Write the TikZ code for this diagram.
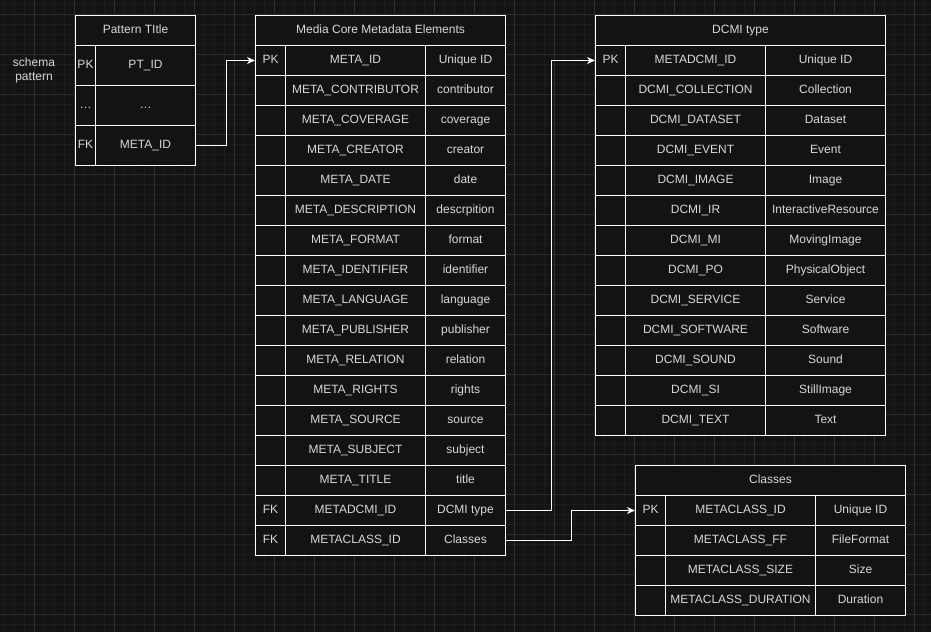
\documentclass[tikz,border=0pt]{standalone}
\usepackage{fontspec}
\setmainfont{Liberation Sans}
\usetikzlibrary{arrows.meta}
\definecolor{bg}{HTML}{131313}
\definecolor{minorgrid}{HTML}{1C1C1C}
\definecolor{majorgrid}{HTML}{2E2E2E}
\definecolor{txt}{HTML}{D8D8D8}
\begin{document}
\begin{tikzpicture}[x=1pt,y=-1pt,
  cell/.style={draw=white, line width=1pt, fill=bg, text=txt,
    font=\fontsize{12}{14}\selectfont, inner sep=0pt, anchor=north west,
    text height=8.8pt, text depth=2.6pt, minimum height=30pt},
  conn/.style={draw=white, line width=1pt, -{Stealth[length=8pt,width=7pt,inset=2.5pt]}},
  lbl/.style={text=txt, font=\fontsize{12}{14}\selectfont, align=center, inner sep=0pt}]
\useasboundingbox (0,0) rectangle (931,632);
\fill[bg] (0,0) rectangle (931,632);
% grid
\foreach \x in {4,14,...,931} \draw[minorgrid, line width=1pt] (\x,0) -- (\x,632);
\foreach \y in {4,14,...,632} \draw[minorgrid, line width=1pt] (0,\y) -- (931,\y);
\foreach \x in {34,74,...,931} \draw[majorgrid, line width=1pt] (\x,0) -- (\x,632);
\foreach \y in {14,54,...,632} \draw[majorgrid, line width=1pt] (0,\y) -- (931,\y);

% schema pattern label
\node[lbl] (sp) at (34,70) {schema\\pattern};

% Pattern Title table
\node[cell, minimum width=120pt] (pt) at (75,15) {Pattern TItle};
\foreach [count=\i] \k/\n in {PK/PT\_ID, \dots/\dots, FK/META\_ID} {
  \pgfmathsetmacro\yy{45+40*(\i-1)}
  \node[cell, minimum width=20pt, minimum height=40pt] (pk\i) at (75,\yy) {\k};
  \node[cell, minimum width=100pt, minimum height=40pt] (pn\i) at (95,\yy) {\n};
}

% Media Core Metadata Elements
\node[cell, minimum width=250pt] (mc) at (255,15) {Media Core Metadata Elements};
\foreach [count=\i] \k/\n/\d in {PK/META\_ID/Unique ID,
  /META\_CONTRIBUTOR/contributor,
  /META\_COVERAGE/coverage,
  /META\_CREATOR/creator,
  /META\_DATE/date,
  /META\_DESCRIPTION/descrpition,
  /META\_FORMAT/format,
  /META\_IDENTIFIER/identifier,
  /META\_LANGUAGE/language,
  /META\_PUBLISHER/publisher,
  /META\_RELATION/relation,
  /META\_RIGHTS/rights,
  /META\_SOURCE/source,
  /META\_SUBJECT/subject,
  /META\_TITLE/title,
  FK/METADCMI\_ID/DCMI type,
  FK/METACLASS\_ID/Classes} {
  \pgfmathsetmacro\yy{45+30*(\i-1)}
  \node[cell, minimum width=30pt] (mk\i) at (255,\yy) {\k};
  \node[cell, minimum width=140pt] (mn\i) at (285,\yy) {\n};
  \node[cell, minimum width=80pt] (md\i) at (425,\yy) {\d};
}

% DCMI type
\node[cell, minimum width=290pt] (dt) at (595,15) {DCMI type};
\foreach [count=\i] \k/\n/\d in {PK/METADCMI\_ID/Unique ID,
  /DCMI\_COLLECTION/Collection,
  /DCMI\_DATASET/Dataset,
  /DCMI\_EVENT/Event,
  /DCMI\_IMAGE/Image,
  /DCMI\_IR/InteractiveResource,
  /DCMI\_MI/MovingImage,
  /DCMI\_PO/PhysicalObject,
  /DCMI\_SERVICE/Service,
  /DCMI\_SOFTWARE/Software,
  /DCMI\_SOUND/Sound,
  /DCMI\_SI/StillImage,
  /DCMI\_TEXT/Text} {
  \pgfmathsetmacro\yy{45+30*(\i-1)}
  \node[cell, minimum width=30pt] (dk\i) at (595,\yy) {\k};
  \node[cell, minimum width=140pt] (dn\i) at (625,\yy) {\n};
  \node[cell, minimum width=120pt] (dd\i) at (765,\yy) {\d};
}

% Classes
\node[cell, minimum width=270pt] (cl) at (635,465) {Classes};
\foreach [count=\i] \k/\n/\d in {PK/METACLASS\_ID/Unique ID,
  /METACLASS\_FF/FileFormat,
  /METACLASS\_SIZE/Size,
  /METACLASS\_DURATION/Duration} {
  \pgfmathsetmacro\yy{495+30*(\i-1)}
  \node[cell, minimum width=30pt] (ck\i) at (635,\yy) {\k};
  \node[cell, minimum width=150pt] (cn\i) at (665,\yy) {\n};
  \node[cell, minimum width=90pt] (cd\i) at (815,\yy) {\d};
}

% connectors
\draw[conn] (pn3.east) -- ++(30,0) |- (mk1.west);
\draw[conn] (md16.east) -- ++(45,0) |- (dk1.west);
\draw[conn] (md17.east) -- ++(65,0) |- (ck1.west);
\end{tikzpicture}
\end{document}
